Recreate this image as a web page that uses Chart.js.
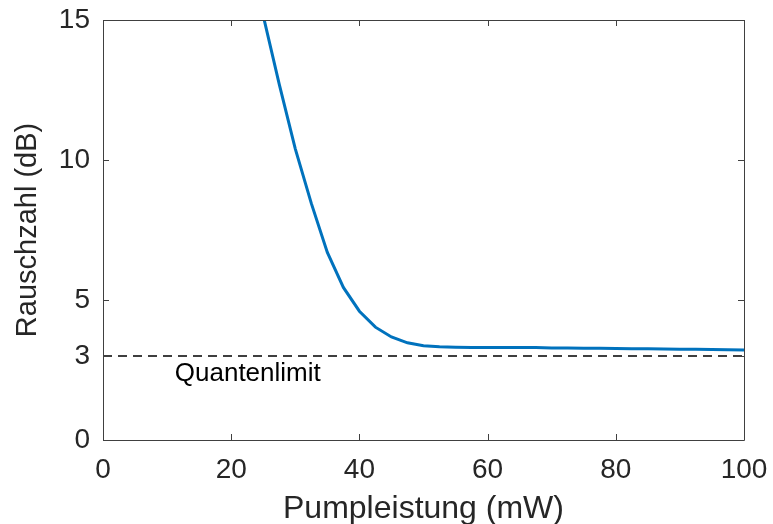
<!DOCTYPE html>
<html>
<head>
<meta charset="utf-8">
<script src="https://cdn.jsdelivr.net/npm/chart.js@4/dist/chart.umd.min.js"></script>
<style>
html,body{margin:0;padding:0;background:#fff;}
#wrap{width:773px;height:524px;position:relative;}
</style>
</head>
<body>
<div id="wrap"><canvas id="c" width="773" height="524"></canvas></div>
<script>
const pumpPower = [25, 27.5, 30, 32.5, 35, 37.5, 40, 42.5, 45, 47.5, 50, 52.5, 55, 57.5, 60, 62.5, 65, 67.5, 70, 72.5, 75, 77.5, 80, 82.5, 85, 87.5, 90, 92.5, 95, 97.5, 100];
const noiseFigure = [15.15, 12.7, 10.4, 8.45, 6.7, 5.45, 4.6, 4.03, 3.68, 3.47, 3.37, 3.33, 3.31, 3.30, 3.30, 3.30, 3.30, 3.30, 3.29, 3.29, 3.28, 3.28, 3.27, 3.26, 3.26, 3.25, 3.24, 3.24, 3.23, 3.22, 3.21];
const limitX = [0, 100];
const limitY = [3, 3];
const xTicks = [0, 20, 40, 60, 80, 100];
const yTicks = [0, 3, 5, 10, 15];
const limitLabel = 'Quantenlimit';
const limitLabelPos = [11.2, 2.09];

const FONT = "'Liberation Sans', Arial, Helvetica, sans-serif";
const TXT = '#262626';

function zeroPad(s) { s.paddingTop = 0; s.paddingBottom = 0; s.paddingLeft = 0; s.paddingRight = 0; }

const boxPlugin = {
  id: 'boxPlugin',
  afterDraw(chart) {
    const ctx = chart.ctx, a = chart.chartArea;
    const xs = chart.scales.x, ys = chart.scales.y;
    ctx.save();
    ctx.strokeStyle = '#404040';
    ctx.lineWidth = 1;
    ctx.beginPath();
    ctx.rect(Math.round(a.left) + 0.5, Math.round(a.top) + 0.5, Math.round(a.right - a.left), Math.round(a.bottom - a.top));
    ctx.stroke();
    const tl = 6;
    ctx.beginPath();
    xTicks.forEach(v => {
      const px = Math.round(xs.getPixelForValue(v)) + 0.5;
      ctx.moveTo(px, a.bottom); ctx.lineTo(px, a.bottom - tl);
      ctx.moveTo(px, a.top); ctx.lineTo(px, a.top + tl);
    });
    yTicks.forEach(v => {
      const py = Math.round(ys.getPixelForValue(v)) + 0.5;
      ctx.moveTo(a.left, py); ctx.lineTo(a.left + tl, py);
      ctx.moveTo(a.right, py); ctx.lineTo(a.right - tl, py);
    });
    ctx.stroke();
    ctx.fillStyle = '#000';
    ctx.font = '26px ' + FONT;
    ctx.textAlign = 'left';
    ctx.textBaseline = 'alphabetic';
    ctx.fillText(limitLabel, xs.getPixelForValue(limitLabelPos[0]), ys.getPixelForValue(limitLabelPos[1]));
    ctx.restore();
  }
};

new Chart(document.getElementById('c'), {
  type: 'line',
  data: {
    datasets: [
      {
        data: pumpPower.map((x, i) => ({x, y: noiseFigure[i]})),
        borderColor: '#0072BD',
        borderWidth: 3,
        pointRadius: 0,
        tension: 0,
        fill: false
      },
      {
        data: limitX.map((x, i) => ({x, y: limitY[i]})),
        borderColor: '#000000',
        borderWidth: 1.5,
        borderDash: [9, 6],
        pointRadius: 0,
        tension: 0,
        fill: false
      }
    ]
  },
  options: {
    responsive: false,
    animation: false,
    devicePixelRatio: 1,
    layout: { padding: { top: 20, right: 29, left: 0, bottom: 0 } },
    plugins: { legend: { display: false }, tooltip: { enabled: false } },
    scales: {
      x: {
        type: 'linear', min: 0, max: 100,
        afterBuildTicks(s) { s.ticks = xTicks.map(v => ({value: v})); },
        afterFit(s) { s.height = 84; zeroPad(s); },
        grid: { display: false, drawTicks: false },
        border: { display: false },
        ticks: { color: TXT, font: { family: FONT, size: 28 }, padding: 13, maxRotation: 0, autoSkip: false },
        title: { display: true, text: 'Pumpleistung (mW)', color: TXT, font: { family: FONT, size: 32 }, padding: { top: 0, bottom: -4 } }
      },
      y: {
        type: 'linear', min: 0, max: 15,
        afterBuildTicks(s) { s.ticks = yTicks.map(v => ({value: v})); },
        afterFit(s) { s.width = 103; zeroPad(s); },
        grid: { display: false, drawTicks: false },
        border: { display: false },
        ticks: { color: TXT, font: { family: FONT, size: 28 }, padding: 13, autoSkip: false },
        title: { display: true, text: 'Rauschzahl (dB)', color: TXT, font: { family: FONT, size: 29 }, padding: { top: 11, bottom: 0 } }
      }
    }
  },
  plugins: [boxPlugin]
});
</script>
</body>
</html>
